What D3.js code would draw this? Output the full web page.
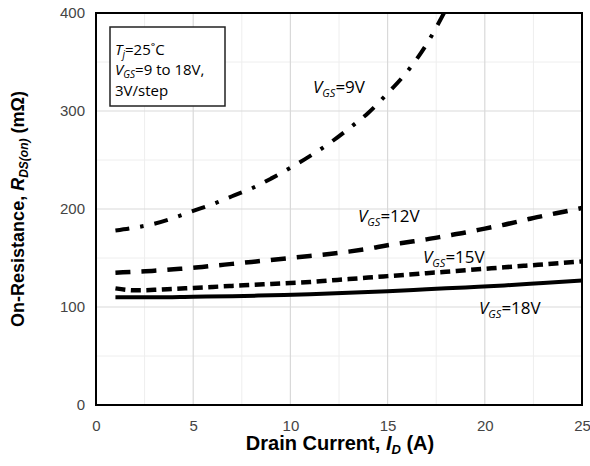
<!DOCTYPE html>
<html>
<head>
<meta charset="utf-8">
<script src="https://cdn.jsdelivr.net/npm/d3@7"></script>
<style>
  html, body { margin: 0; padding: 0; background: #fff; }
  svg { display: block; }
</style>
</head>
<body>
<svg id="chart" width="590" height="466"></svg>
<script>
// ---- data ----
const xTicks = [0, 5, 10, 15, 20, 25];
const yTicks = [0, 100, 200, 300, 400];

const current9 = [1, 2, 3, 4, 5, 6, 7, 8, 9, 10, 11, 12, 13, 14, 15, 16, 17, 17.9];
const rds9 = [178, 181, 185, 191, 198, 205, 213, 221, 231, 242, 254, 267, 282, 298, 318, 340, 368, 400];

const current12 = [1, 2, 3, 4, 5, 6, 7, 8, 9, 10, 11, 12, 13, 14, 15, 16, 17, 18, 19, 20, 21, 22, 23, 24, 25];
const rds12 = [135, 136, 137, 138.5, 140, 142, 144, 146, 148, 150, 152, 154, 156.5, 159.5, 163, 166, 169, 172.5, 176, 180, 184, 188.5, 193, 197, 201];

const current15 = [1, 2, 3, 4, 5, 6, 7, 8, 9, 10, 11, 12, 13, 14, 15, 16, 17, 18, 19, 20, 21, 22, 23, 24, 25];
const rds15 = [119, 117, 117.5, 118.5, 119.5, 120.5, 121.5, 122.5, 123.5, 124.5, 125.5, 127, 128.5, 130, 131.5, 133, 134.5, 136, 137.5, 139, 140.5, 142, 143.5, 145, 146.5];

const current18 = [1, 3, 5, 7, 9, 11, 13, 15, 17, 19, 21, 23, 25];
const rds18 = [110, 110, 110.5, 111, 112, 113, 114.5, 116, 118, 120, 122, 124.5, 127];

const seriesNames = ["9V", "12V", "15V", "18V"];

(function () {
// ---- layout ----
const svg = d3.select("#chart");
const pL = 96, pR = 582, pT = 13, pB = 405;

const x = d3.scaleLinear().domain([0, 25]).range([pL, pR]);
const y = d3.scaleLinear().domain([0, 400]).range([pB, pT]);

const tickFont = "'Liberation Sans', Arial, sans-serif";
const labelFont = "'Open Sans', 'Noto Sans', sans-serif";

// minor gridlines
const minorX = d3.range(2.5, 25, 5);
const minorY = d3.range(50, 400, 100);
svg.append("g").selectAll("line").data(minorX).join("line")
  .attr("x1", d => x(d)).attr("x2", d => x(d)).attr("y1", pT).attr("y2", pB)
  .attr("stroke", "#eeeeee").attr("stroke-width", 1);
svg.append("g").selectAll("line").data(minorY).join("line")
  .attr("y1", d => y(d)).attr("y2", d => y(d)).attr("x1", pL).attr("x2", pR)
  .attr("stroke", "#eeeeee").attr("stroke-width", 1);

// major gridlines
svg.append("g").selectAll("line").data(xTicks.slice(1, -1)).join("line")
  .attr("x1", d => x(d)).attr("x2", d => x(d)).attr("y1", pT).attr("y2", pB)
  .attr("stroke", "#d9d9d9").attr("stroke-width", 1.2);
svg.append("g").selectAll("line").data(yTicks.slice(1, -1)).join("line")
  .attr("y1", d => y(d)).attr("y2", d => y(d)).attr("x1", pL).attr("x2", pR)
  .attr("stroke", "#d9d9d9").attr("stroke-width", 1.2);

// axes (labels only)
const xAxis = d3.axisBottom(x).tickValues(xTicks).tickSize(0).tickPadding(15);
const gx = svg.append("g").attr("transform", `translate(0,${pB})`).call(xAxis);
gx.select(".domain").remove();
gx.selectAll("text").attr("font-family", tickFont).attr("font-size", 15).attr("fill", "#444");

const yAxis = d3.axisLeft(y).tickValues(yTicks).tickSize(0).tickPadding(11);
const gy = svg.append("g").attr("transform", `translate(${pL},0)`).call(yAxis);
gy.select(".domain").remove();
gy.selectAll("text").attr("font-family", tickFont).attr("font-size", 15).attr("fill", "#444");

// clip
svg.append("clipPath").attr("id", "clip").append("rect")
  .attr("x", pL).attr("y", pT).attr("width", pR - pL).attr("height", pB - pT);

const line = d3.line().x(d => x(d[0])).y(d => y(d[1])).curve(d3.curveMonotoneX);
const zip = (a, b) => a.map((v, i) => [v, b[i]]);

const series = [
  { name: seriesNames[0], pts: zip(current9, rds9), dash: "14,11,3.5,11", w: 4 },
  { name: seriesNames[1], pts: zip(current12, rds12), dash: "15,11", w: 4.5 },
  { name: seriesNames[2], pts: zip(current15, rds15), dash: "10,5.5", w: 4.5 },
  { name: seriesNames[3], pts: zip(current18, rds18), dash: null, w: 4 }
];

const gLines = svg.append("g").attr("clip-path", "url(#clip)");
series.forEach(s => {
  gLines.append("path")
    .attr("d", line(s.pts))
    .attr("fill", "none")
    .attr("stroke", "#000")
    .attr("stroke-width", s.w)
    .attr("stroke-dasharray", s.dash);
});

// plot border
svg.append("rect")
  .attr("x", pL).attr("y", pT).attr("width", pR - pL).attr("height", pB - pT)
  .attr("fill", "none").attr("stroke", "#000").attr("stroke-width", 2);

// series labels
const labelPos = [
  { x: 313, y: 93 },
  { x: 358, y: 222 },
  { x: 423, y: 263 },
  { x: 479, y: 314 }
];
series.forEach((s, i) => {
  const t = svg.append("text")
    .attr("x", labelPos[i].x).attr("y", labelPos[i].y)
    .attr("font-family", labelFont).attr("font-size", 17).attr("fill", "#000");
  t.append("tspan").attr("font-style", "italic").text("V");
  t.append("tspan").attr("font-style", "italic").attr("font-size", 11).attr("dy", 4).text("GS");
  t.append("tspan").attr("dy", -4).text("=" + s.name);
});

// info box
svg.append("rect").attr("x", 110).attr("y", 27).attr("width", 115).attr("height", 79)
  .attr("fill", "#fff").attr("stroke", "#222").attr("stroke-width", 1.5);

const info1 = svg.append("text").attr("x", 115).attr("y", 55)
  .attr("font-family", labelFont).attr("font-size", 15).attr("fill", "#000");
info1.append("tspan").attr("font-style", "italic").text("T");
info1.append("tspan").attr("font-style", "italic").attr("font-size", 10).attr("dy", 3).text("j");
info1.append("tspan").attr("dy", -3).text("=25˚C");

const info2 = svg.append("text").attr("x", 115).attr("y", 75)
  .attr("font-family", labelFont).attr("font-size", 15).attr("fill", "#000");
info2.append("tspan").attr("font-style", "italic").text("V");
info2.append("tspan").attr("font-style", "italic").attr("font-size", 10).attr("dy", 2.5).text("GS");
info2.append("tspan").attr("dy", -2.5).text("=9 to 18V,");

svg.append("text").attr("x", 115).attr("y", 96)
  .attr("font-family", labelFont).attr("font-size", 15).attr("fill", "#000")
  .text("3V/step");

// x title
const xt = svg.append("text")
  .attr("x", 340).attr("y", 450).attr("text-anchor", "middle")
  .attr("font-family", tickFont).attr("font-size", 20).attr("font-weight", "bold").attr("fill", "#000");
xt.append("tspan").text("Drain Current, ");
xt.append("tspan").attr("font-style", "italic").text("I");
xt.append("tspan").attr("font-style", "italic").attr("font-size", 13).attr("dy", 4).text("D");
xt.append("tspan").attr("dy", -4).text(" (A)");

// y title
const yt = svg.append("text")
  .attr("transform", `translate(24,${(pT + pB) / 2}) rotate(-90)`)
  .attr("text-anchor", "middle")
  .attr("font-family", tickFont).attr("font-size", 18).attr("font-weight", "bold").attr("fill", "#000");
yt.append("tspan").text("On-Resistance, ");
yt.append("tspan").attr("font-style", "italic").text("R");
yt.append("tspan").attr("font-style", "italic").attr("font-size", 12).attr("dy", 4).text("DS(on)");
yt.append("tspan").attr("dy", -4).text(" (mΩ)");
})();
</script>
</body>
</html>
